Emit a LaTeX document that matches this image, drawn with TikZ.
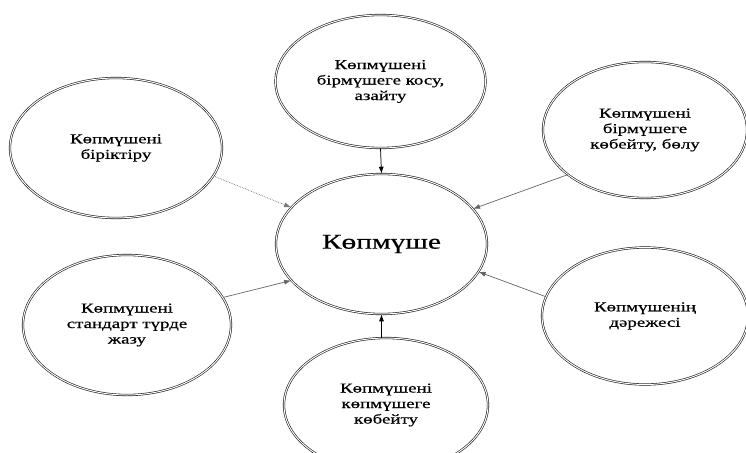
\documentclass[tikz,border=0pt]{standalone}
\usepackage{fontspec}
\setmainfont{Liberation Serif}[FakeStretch=1.4,FakeBold=0.6]
\usetikzlibrary{shapes.geometric,arrows.meta}
\tikzset{
  bubble/.style={ellipse, draw=black!90, line width=0.6pt, double=white,
    double distance=1pt, align=center, inner sep=0pt,
    font=\fontsize{13.5}{15.5}\selectfont},
  link/.style={draw=black!60, line width=0.7pt,
    -{Latex[length=7pt,width=5pt]}},
  vlink/.style={link, draw=black, line width=0.75pt},
  dlink/.style={link, draw=black!55, densely dotted}
}
\begin{document}
\begin{tikzpicture}[x=1pt,y=-1pt]
\fill[white] (0,0) rectangle (746,452);
\useasboundingbox (0,0) rectangle (746,452);
\node[bubble, minimum width=210pt, minimum height=133pt] (t) at (380.5,81.5)
  {Көпмүшені\\бірмүшеге косу,\\азайту};
\node[bubble, minimum width=212pt, minimum height=140pt] (l) at (116,148)
  {Көпмүшені\\біріктіру};
\node[bubble, minimum width=204pt, minimum height=136pt] (rt) at (645,130)
  {Көпмүшені\\бірмүшеге\\көбейту, бөлу};
\node[bubble, minimum width=211pt, minimum height=140pt,
  font=\fontsize{21}{24}\selectfont] (c) at (381.5,244) {Көпмүше};
\node[bubble, minimum width=208pt, minimum height=140pt] (bl) at (127,325)
  {Көпмүшені\\стандарт түрде\\жазу};
\node[bubble, minimum width=204pt, minimum height=134pt] (b) at (386,405)
  {Көпмүшені\\көпмүшеге\\көбейту};
\node[bubble, minimum width=206pt, minimum height=137pt] (rb) at (645,316)
  {Көпмүшенің\\дәрежесі};
\draw[vlink] (t.south) -- (c.north);
\draw[dlink] (l.-16.6) -- (c.158.5);
\draw[link] (rt.210) -- (c.21);
\draw[link] (bl.16.7) -- (c.202);
\draw[link] (rb.169.5) -- (c.-16.6);
\draw[vlink] (b.north -| c.south) -- (c.south);
\end{tikzpicture}
\end{document}
